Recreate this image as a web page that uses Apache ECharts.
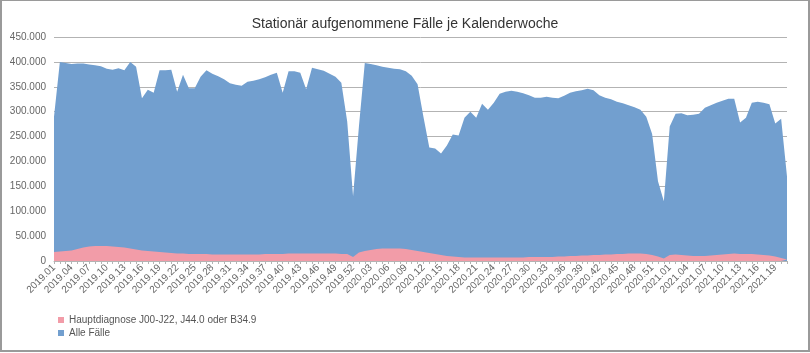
<!DOCTYPE html>
<html>
<head>
<meta charset="utf-8">
<script src="https://cdn.jsdelivr.net/npm/echarts@6/dist/echarts.min.js"></script>
<style>
  html, body { margin: 0; padding: 0; background: #fff; }
  #chart { width: 806px; height: 349px; border: 2px solid #9a9a9a; border-top-width: 1px; }
</style>
</head>
<body>
<div id="chart"></div>
<script>
// Kalenderwochen 2019.01 .. 2021.21
const weeksPerYear = [[2019, 52], [2020, 53], [2021, 21]];
const weeks = [];
weeksPerYear.forEach(([year, n]) => {
    for (let w = 1; w <= n; w++) weeks.push(year + "." + String(w).padStart(2, "0"));
});

// Alle Fälle
const alleFaelle = [
    290000, 400000, 398000, 396000, 397000, 397000, 395000, 393000, 391000, 386000,
    384000, 387000, 383000, 400000, 390000, 327000, 344000, 338000, 383000, 383000,
    384000, 340000, 374000, 347000, 347000, 370000, 383000, 376000, 371000, 365000,
    357000, 354000, 352000, 360000, 362000, 365000, 369000, 374000, 378000, 338000,
    381000, 381000, 378000, 345000, 388000, 385000, 382000, 376000, 370000, 358000,
    280000, 130000, 270000, 398000, 396000, 393000, 390000, 388000, 386000, 385000,
    381000, 372000, 355000, 290000, 228000, 226000, 216000, 232000, 254000, 252000,
    288000, 300000, 288000, 316000, 304000, 318000, 336000, 340000, 342000, 340000,
    337000, 333000, 328000, 328000, 330000, 328000, 327000, 332000, 338000, 341000,
    343000, 346000, 343000, 333000, 328000, 325000, 320000, 317000, 313000, 309000,
    304000, 290000, 255000, 160000, 120000, 270000, 296000, 297000, 293000, 294000,
    296000, 308000, 313000, 318000, 322000, 326000, 326000, 278000, 288000, 318000,
    320000, 318000, 315000, 276000, 286000, 170000
];

// Hauptdiagnose J00-J22, J44.0 oder B34.9
const hauptdiagnose = [
    18000, 19000, 20000, 21000, 24000, 27000, 29000, 30000, 30000, 30000,
    29000, 28000, 27000, 25000, 23000, 21000, 20000, 19000, 18000, 17000,
    16000, 15000, 15000, 14000, 14000, 14000, 14000, 13000, 13000, 13000,
    13000, 13000, 13000, 13000, 13000, 13000, 14000, 14000, 14000, 14000,
    15000, 15000, 15000, 15000, 15000, 15000, 15000, 15000, 15000, 14000,
    14000, 8000, 17000, 20000, 22000, 24000, 25000, 25000, 25000, 25000,
    24000, 22000, 20000, 18000, 16000, 14000, 12000, 10000, 9000, 8000,
    7000, 7000, 7000, 7000, 7000, 7000, 7000, 7000, 7000, 7000,
    7000, 8000, 8000, 8000, 8000, 8000, 9000, 9000, 10000, 10000,
    11000, 11000, 12000, 12000, 13000, 13000, 14000, 14000, 15000, 15000,
    15000, 14000, 12000, 9000, 5000, 12000, 13000, 12000, 11000, 10000,
    10000, 10000, 11000, 12000, 13000, 14000, 15000, 14000, 14000, 14000,
    13000, 12000, 11000, 9000, 6000, 3000
];

const seriesNames = ["Hauptdiagnose J00-J22, J44.0 oder B34.9", "Alle Fälle"];

const chart = echarts.init(document.getElementById("chart"));

function punkt(v) {
    return String(v).replace(/\B(?=(\d{3})+(?!\d))/g, ".");
}

chart.setOption({
    animation: false,
    textStyle: { fontFamily: "Liberation Sans, Arial, sans-serif" },
    title: {
        text: "Stationär aufgenommene Fälle je Kalenderwoche",
        left: "center",
        top: 11,
        textStyle: { fontSize: 14, fontWeight: "normal", color: "#333" }
    },
    legend: {
        data: seriesNames,
        orient: "vertical",
        left: 51,
        top: 309,
        itemWidth: 6,
        itemHeight: 6,
        itemGap: 3,
        icon: "rect",
        textStyle: { fontSize: 10, color: "#555" }
    },
    grid: { left: 52, right: 21, top: 36, bottom: 89 },
    xAxis: {
        type: "category",
        data: weeks,
        boundaryGap: false,
        axisLine: { lineStyle: { color: "#b3b3b3" } },
        axisTick: { show: true, interval: 0, length: 3, lineStyle: { color: "#b3b3b3" } },
        axisLabel: { interval: 2, rotate: 45, fontSize: 10, color: "#666", margin: 5 }
    },
    yAxis: {
        type: "value",
        min: 0,
        max: 450000,
        interval: 50000,
        axisLine: { show: false },
        axisTick: { show: false },
        splitLine: { lineStyle: { color: "#b3b3b3" } },
        axisLabel: { fontSize: 10, color: "#666", formatter: punkt }
    },
    series: [
        {
            name: seriesNames[1],
            type: "line",
            data: alleFaelle,
            showSymbol: false,
            lineStyle: { width: 0 },
            itemStyle: { color: "#729fcf" },
            areaStyle: { color: "#729fcf", opacity: 1 },
            z: 1
        },
        {
            name: seriesNames[0],
            type: "line",
            data: hauptdiagnose,
            showSymbol: false,
            lineStyle: { width: 0 },
            itemStyle: { color: "#f29ca8" },
            areaStyle: { color: "#f29ca8", opacity: 1 },
            z: 2
        }
    ]
});
</script>
</body>
</html>
